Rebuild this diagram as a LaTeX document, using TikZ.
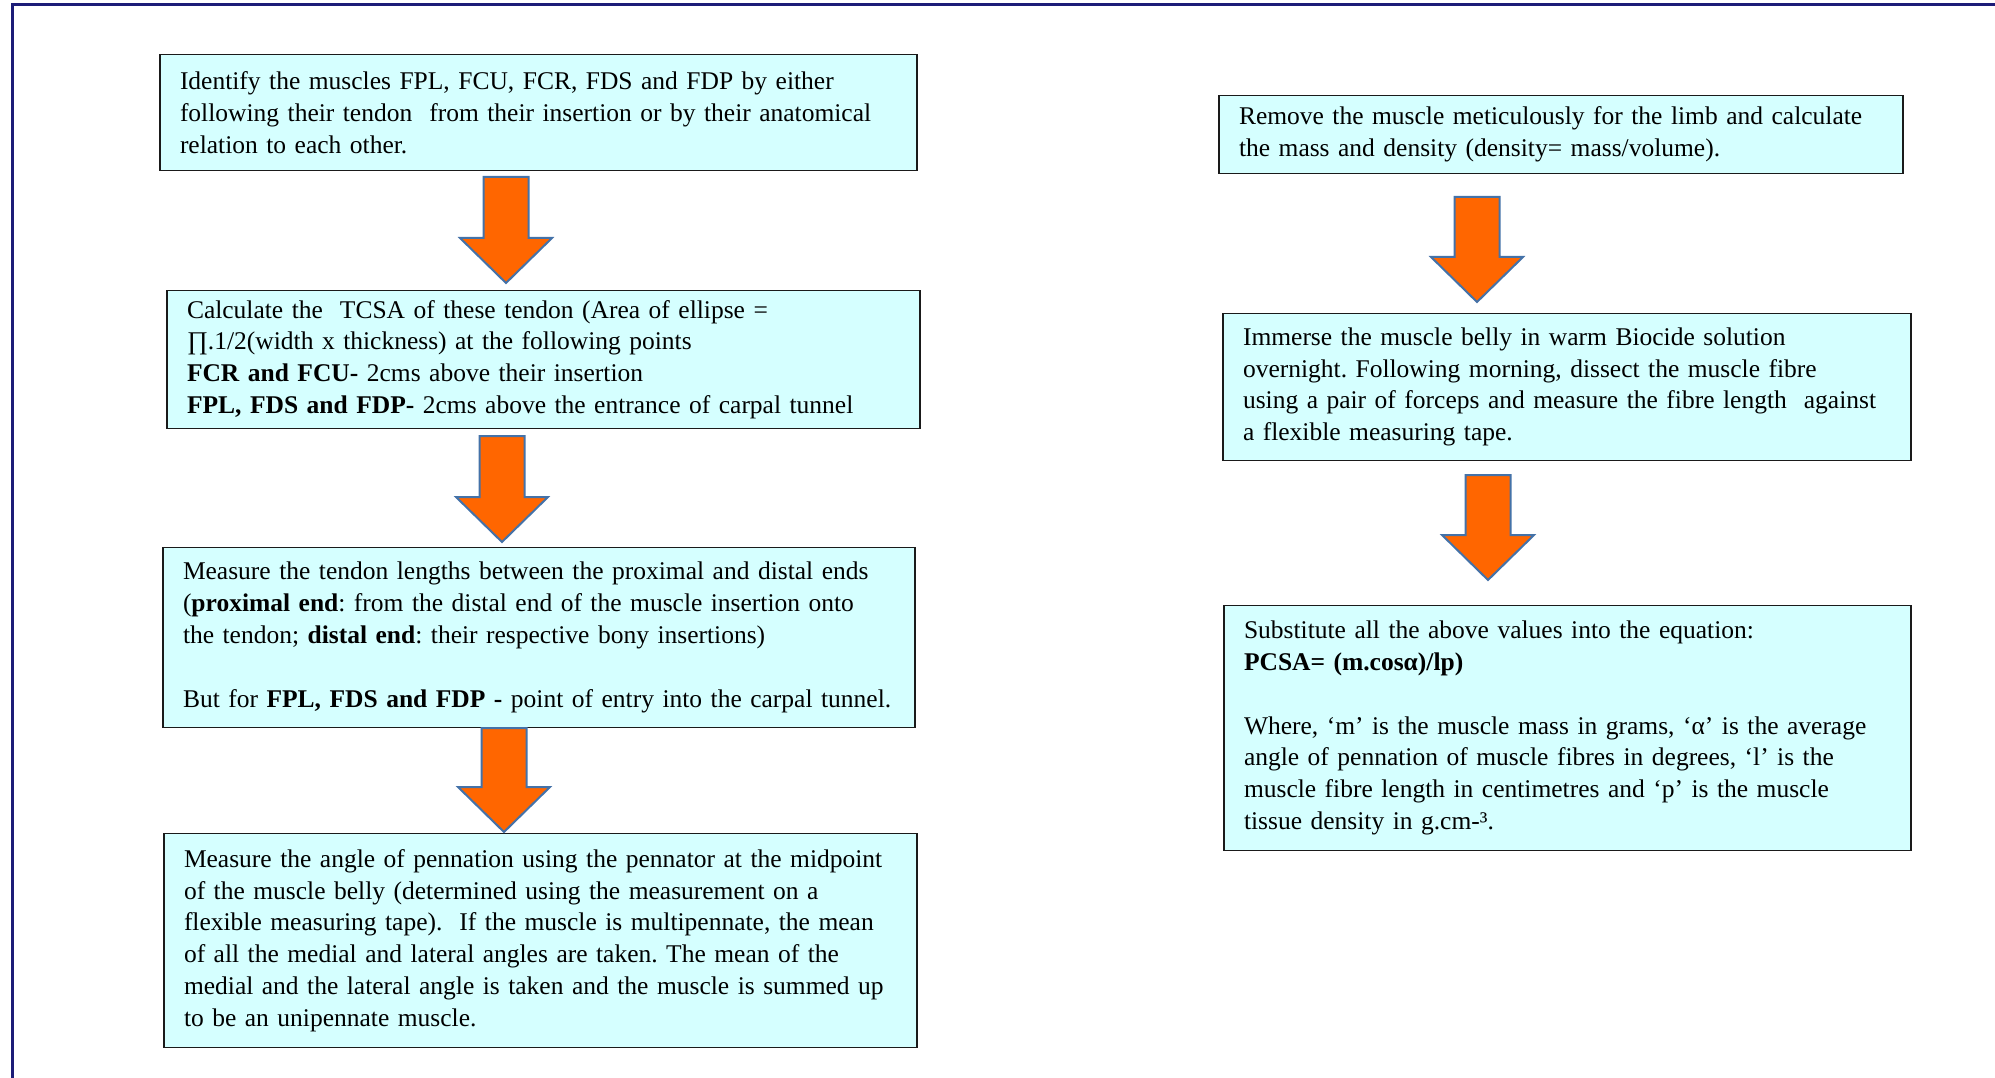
\documentclass[tikz,border=0pt]{standalone}
\usepackage{fontspec}
\setmainfont{Liberation Serif}
\frenchspacing
\definecolor{boxfill}{HTML}{D5FFFF}
\definecolor{frameblue}{HTML}{1C1C78}
\definecolor{arroworange}{HTML}{FF6600}
\definecolor{arrowedge}{HTML}{4472A8}
\definecolor{boxedge}{HTML}{1A1A1A}
\tikzset{
  stepbox/.style={draw=boxedge, line width=1.8pt, fill=boxfill, rectangle,
    inner xsep=20pt, inner ysep=0pt, align=left, anchor=center,
    font=\fontsize{25.5}{31.8}\selectfont\frenchspacing},
  barrow/.style={draw=arrowedge, fill=arroworange, line width=2pt, line join=miter}
}
% block arrow: centre x, top y, tip y (y grows downward)
\newcommand\blockarrow[3]{%
  \draw[barrow] (#1-22.5,#2) -- (#1+22.5,#2) -- (#1+22.5,#3-45) -- (#1+46,#3-45)
    -- (#1,#3) -- (#1-46,#3-45) -- (#1-22.5,#3-45) -- cycle;}
\newcommand\boxnode[6]{% name, x1, y1, x2, y2, text
  \node[stepbox, minimum width={#4-#2}, minimum height={#5-#3}, text width={#4-#2-40}]
    (#1) at ({(#2+#4)/2},{(#3+#5)/2+1.5}) {#6};}
\begin{document}
\begin{tikzpicture}[x=1pt, y=-1pt]
\useasboundingbox (0,0) rectangle (1995,1078);
% frame
\draw[frameblue, line width=3pt] (1995,5) -- (12,5) -- (12,1078);
% left column
\boxnode{b1}{160}{53}{917}{169}{Identify the muscles FPL, FCU, FCR, FDS and FDP by either\\
following their tendon\ \ from their insertion or by their anatomical\\
relation to each other.}
\boxnode{b2}{167}{289}{920}{427}{Calculate the\ \ TCSA of these tendon (Area of ellipse =\\
∏.1/2(width x thickness) at the following points\\
\textbf{FCR and FCU-} 2cms above their insertion\\
\textbf{FPL, FDS and FDP-} 2cms above the entrance of carpal tunnel}
\boxnode{b3}{163}{546}{915}{726}{Measure the tendon lengths between the proximal and distal ends\\
(\textbf{proximal end}: from the distal end of the muscle insertion onto\\
the tendon; \textbf{distal end}: their respective bony insertions)\\[31.8pt]
But for \textbf{FPL, FDS and FDP -} point of entry into the carpal tunnel.}
\boxnode{b4}{164}{832}{917}{1046}{Measure the angle of pennation using the pennator at the midpoint\\
of the muscle belly (determined using the measurement on a\\
flexible measuring tape).\ \ If the muscle is multipennate, the mean\\
of all the medial and lateral angles are taken. The mean of the\\
medial and the lateral angle is taken and the muscle is summed up\\
to be an unipennate muscle.}
% right column
\boxnode{b5}{1219}{94}{1903}{172}{Remove the muscle meticulously for the limb and calculate\\
the mass and density (density= mass/volume).}
\boxnode{b6}{1223}{312}{1911}{459}{Immerse the muscle belly in warm Biocide solution\\
overnight. Following morning, dissect the muscle fibre\\
using a pair of forceps and measure the fibre length\ \ against\\
a flexible measuring tape.}
\boxnode{b7}{1224}{604}{1911}{849}{Substitute all the above values into the equation:\\
\textbf{PCSA= (m.cosα)/lp)}\\[31.8pt]
Where, ‘m’ is the muscle mass in grams, ‘α’ is the average\\
angle of pennation of muscle fibres in degrees, ‘l’ is the\\
muscle fibre length in centimetres and ‘p’ is the muscle\\
tissue density in g.cm-³.}
% arrows
\blockarrow{506}{177}{283}
\blockarrow{502}{436}{542}
\blockarrow{504}{728}{832}
\blockarrow{1477}{197}{302}
\blockarrow{1488}{475}{580}
\end{tikzpicture}
\end{document}
